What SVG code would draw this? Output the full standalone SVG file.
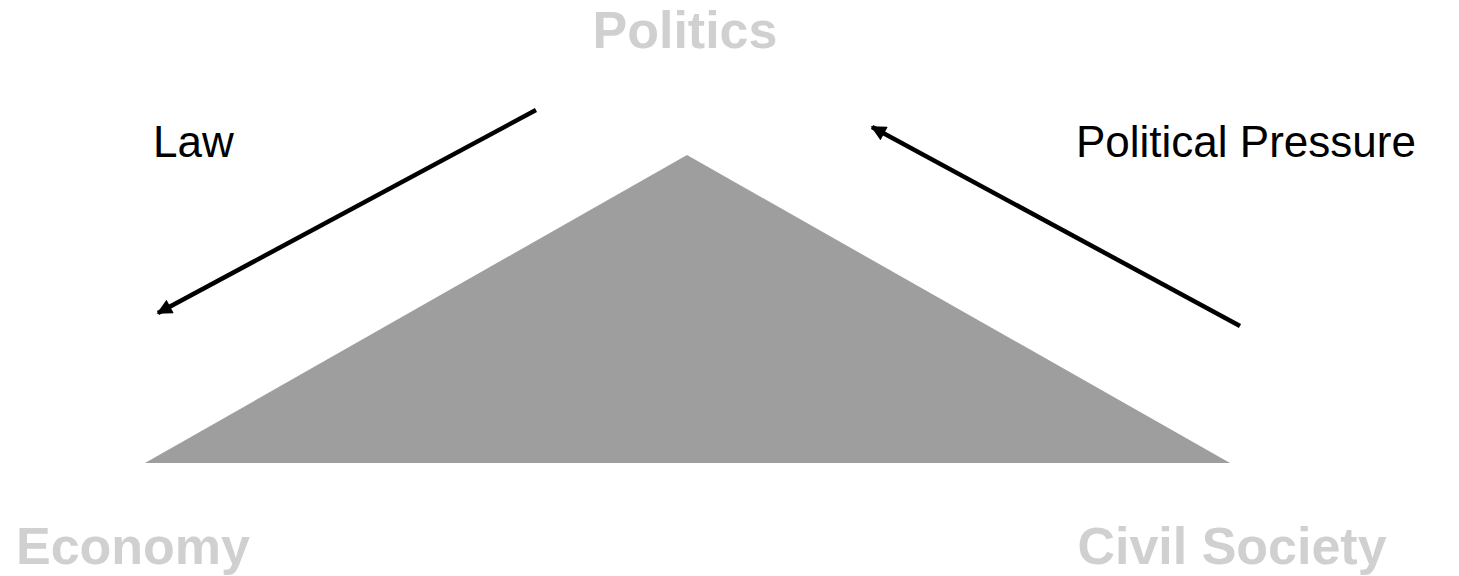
<svg xmlns="http://www.w3.org/2000/svg" width="1459" height="576" viewBox="0 0 1459 576">
  <style>
    .big { font-family: "Liberation Sans", Arial, sans-serif; font-weight: bold; font-size: 52px; fill: #d0d0d0; }
    .lbl { font-family: "Liberation Sans", Arial, sans-serif; font-size: 44px; fill: #000000; }
    .conn { stroke: #000000; stroke-width: 4.5; fill: none; marker-end: url(#arrow); }
  </style>
  <defs>
    <marker id="arrow" viewBox="0 0 10 10" refX="9" refY="5" markerWidth="4.6" markerHeight="3.4" orient="auto" markerUnits="strokeWidth">
      <path d="M0,0 L10,5 L0,10 z" fill="#000000"/>
    </marker>
  </defs>
  <rect width="1459" height="576" fill="#ffffff"/>
  <g id="triangle">
    <polygon points="687,155 1230,463 145,463" fill="#9e9e9e"/>
  </g>
  <g id="politics">
    <text class="big" x="685" y="48" text-anchor="middle">Politics</text>
  </g>
  <g id="economy">
    <text class="big" x="133" y="564" text-anchor="middle">Economy</text>
  </g>
  <g id="civil-society">
    <text class="big" x="1232" y="564" text-anchor="middle">Civil Society</text>
  </g>
  <g id="connectors">
    <line class="conn" x1="536" y1="110" x2="158" y2="313"/>
    <line class="conn" x1="1240" y1="326" x2="872" y2="127"/>
  </g>
  <g id="labels">
    <text class="lbl" x="153" y="157">Law</text>
    <text class="lbl" x="1076" y="157">Political Pressure</text>
  </g>
</svg>
